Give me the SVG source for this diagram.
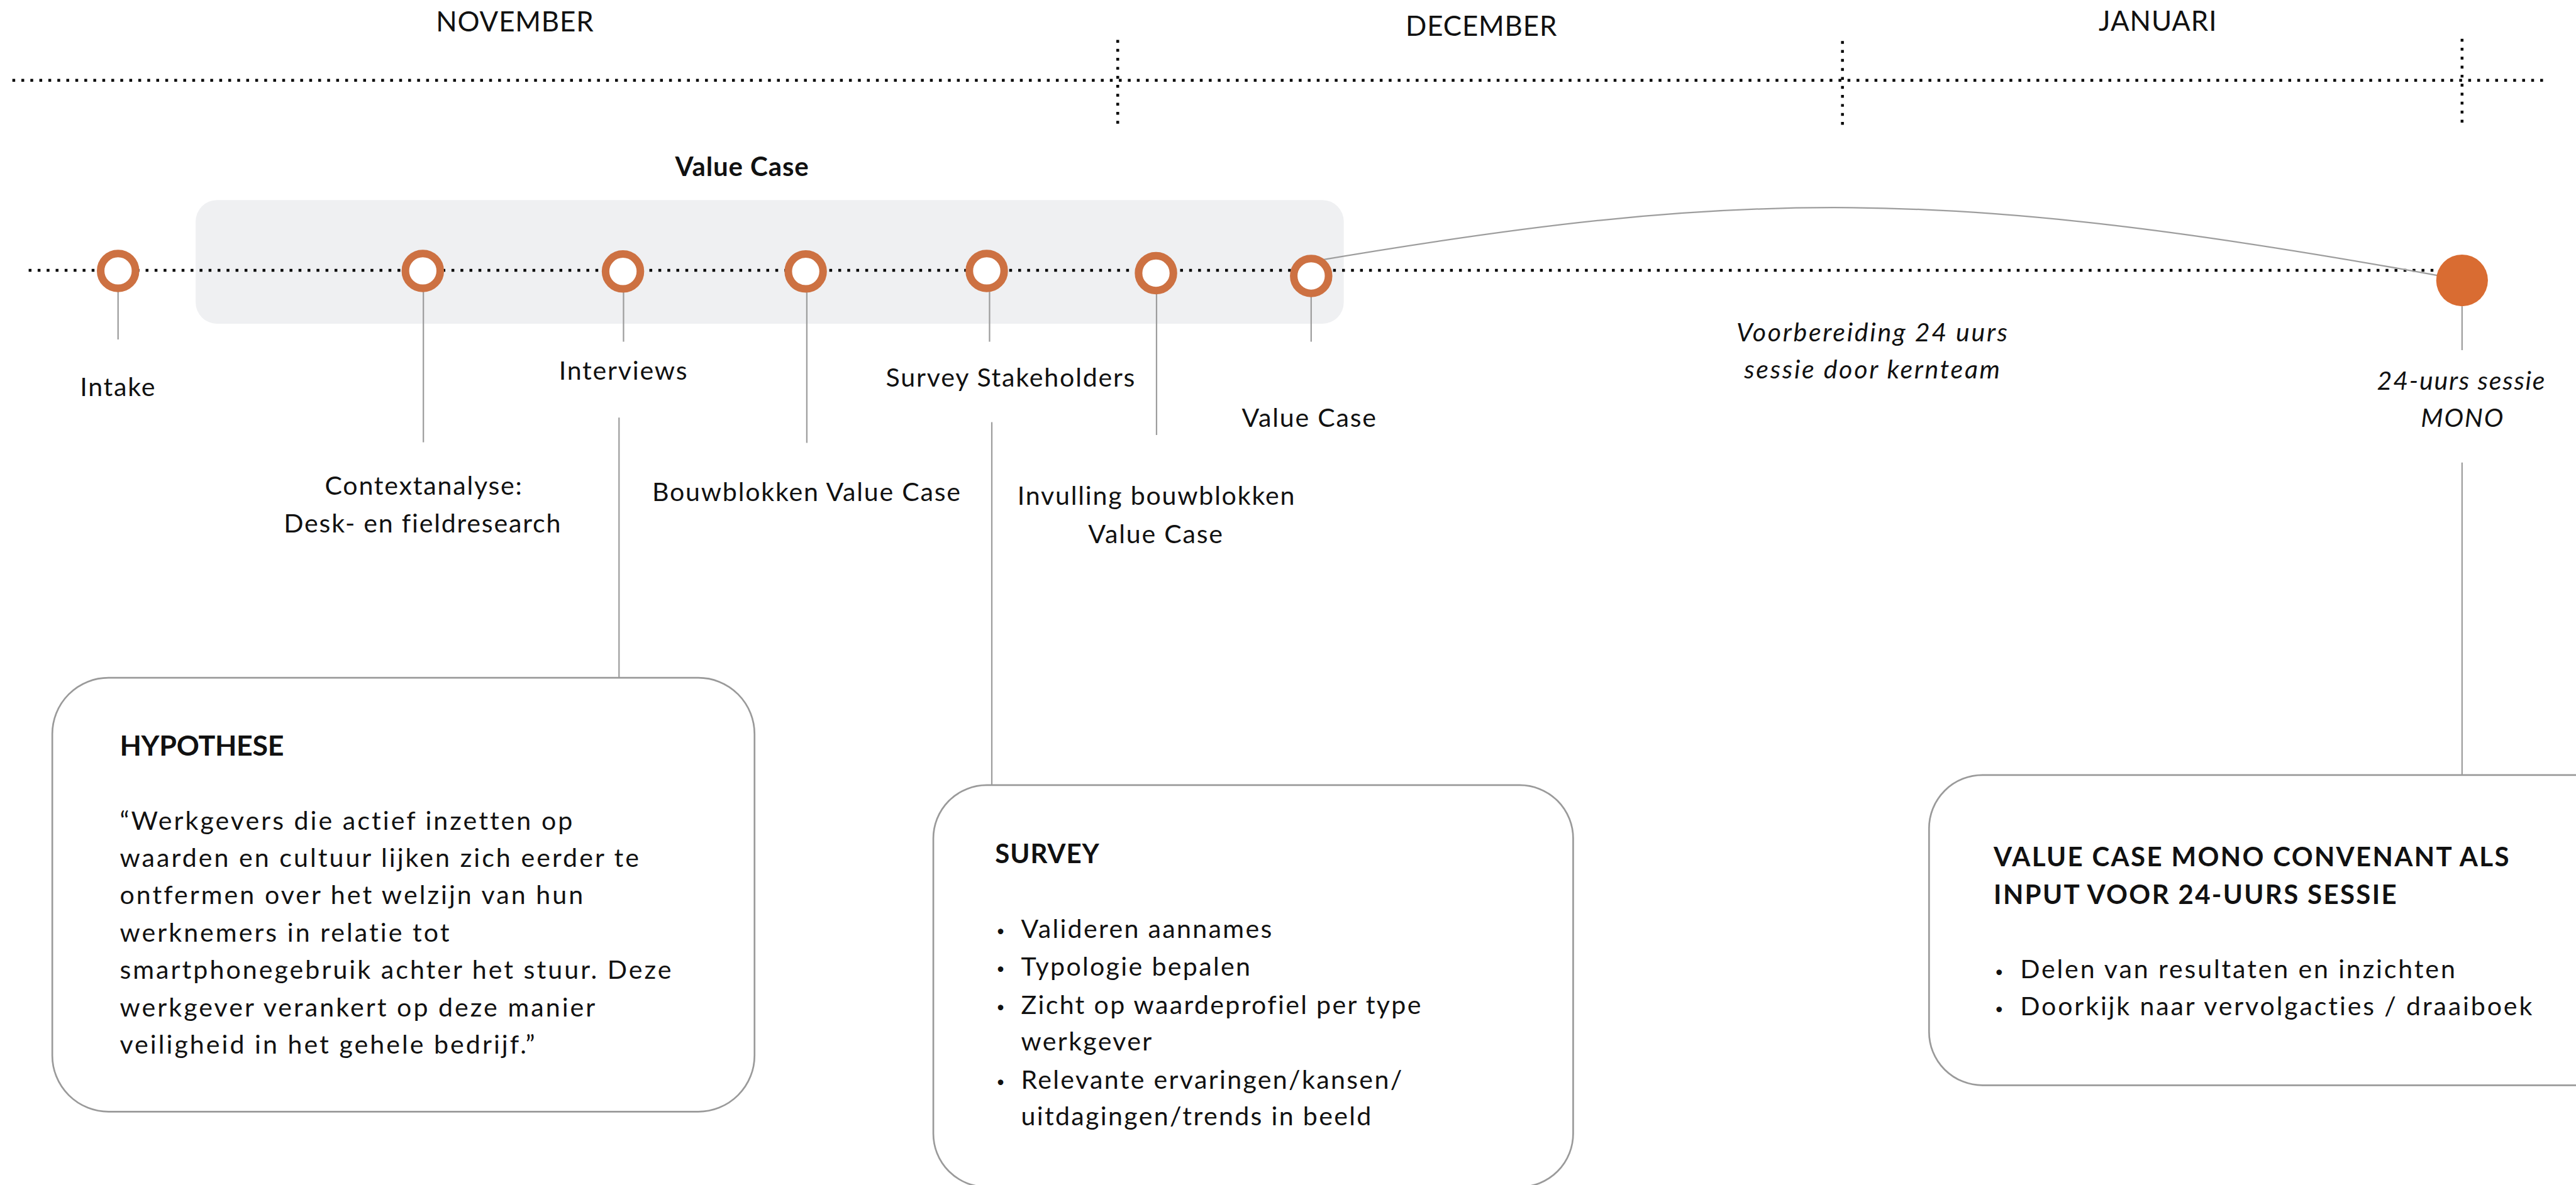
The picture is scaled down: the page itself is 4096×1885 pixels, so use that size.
<svg xmlns="http://www.w3.org/2000/svg" width="4096" height="1885" viewBox="0 0 4096 1885">
  <style>
    .lbl { font-family: Lato, "Noto Sans", sans-serif; font-size: 46px; fill: #111; letter-spacing: 2px; }
    .mid { text-anchor: middle; }
    .it { font-style: italic; }
    .bold { font-weight: 700; letter-spacing: 1px; }
    .hyp .lbl { letter-spacing: 3.4px; }
    .srv .lbl { letter-spacing: 2.6px; }
    .cov .lbl { letter-spacing: 3.2px; }
    .bul { font-size: 26px; }
    .month { font-family: Lato, "Noto Sans", sans-serif; font-size: 49px; fill: #111; text-anchor: middle; letter-spacing: 1px; }
    .dots { stroke: #000; stroke-width: 5; stroke-dasharray: 5 11; fill: none; }
    .lead { stroke: #9d9d9d; stroke-width: 2.5; fill: none; }
    .ring { fill: #fff; stroke: #cd7142; stroke-width: 13.5; }
    .card { fill: #fff; stroke: #9a9a9a; stroke-width: 3; }
  </style>
  <rect width="4096" height="1885" fill="#fff"/>
  <g transform="scale(0.894)">
    <!-- month axis -->
    <g id="months">
      <line class="dots" x1="22" y1="143" x2="4524" y2="143"/>
      <line class="dots" x1="1988" y1="71" x2="1988" y2="220"/>
      <line class="dots" x1="3277" y1="73" x2="3277" y2="222"/>
      <line class="dots" x1="4379" y1="69" x2="4379" y2="218"/>
      <text class="month" x="916" y="56">NOVEMBER</text>
      <text class="month" x="2635" y="64">DECEMBER</text>
      <text class="month" x="3838" y="55">JANUARI</text>
    </g>

    <!-- value case phase band -->
    <g id="phase-value-case">
      <rect x="348" y="356" width="2042" height="220" rx="38" fill="#eff0f2"/>
      <text class="lbl bold mid" x="1320" y="313" style="font-size:47px">Value Case</text>
    </g>

    <!-- timeline -->
    <line class="dots" x1="51" y1="481" x2="4340" y2="481"/>

    <!-- connectors -->
    <g id="connectors">
      <line class="lead" x1="210" y1="519" x2="210" y2="604"/>
      <line class="lead" x1="753" y1="519" x2="753" y2="787"/>
      <line class="lead" x1="1109" y1="520" x2="1109" y2="608"/>
      <line class="lead" x1="1435" y1="520" x2="1435" y2="788"/>
      <line class="lead" x1="1760" y1="519" x2="1760" y2="608"/>
      <line class="lead" x1="2057" y1="523" x2="2057" y2="774"/>
      <line class="lead" x1="2332" y1="528" x2="2332" y2="608"/>
      <line class="lead" x1="4379" y1="545" x2="4379" y2="623"/>
      <line class="lead" x1="1101" y1="743" x2="1101" y2="1206"/>
      <line class="lead" x1="1764" y1="751" x2="1764" y2="1397"/>
      <line class="lead" x1="4379" y1="823" x2="4379" y2="1379"/>
      <path class="lead" d="M2336,465 C3100,335 3460,332 4335,490" stroke-width="3.5"/>
    </g>

    <g id="m-intake">
      <circle class="ring" cx="210" cy="482" r="31"/>
      <text class="lbl mid" x="210" y="705">Intake</text>
    </g>
    <g id="m-context">
      <circle class="ring" cx="752" cy="482" r="31"/>
      <text class="lbl mid" x="754" y="880">Contextanalyse:</text>
      <text class="lbl mid" x="752" y="947">Desk- en fieldresearch</text>
    </g>
    <g id="m-interviews">
      <circle class="ring" cx="1108" cy="483" r="31"/>
      <text class="lbl mid" x="1109" y="676">Interviews</text>
    </g>
    <g id="m-bouwblokken">
      <circle class="ring" cx="1433" cy="483" r="31"/>
      <text class="lbl mid" x="1435" y="891">Bouwblokken Value Case</text>
    </g>
    <g id="m-survey">
      <circle class="ring" cx="1755" cy="482" r="31"/>
      <text class="lbl mid" x="1798" y="688">Survey Stakeholders</text>
    </g>
    <g id="m-invulling">
      <circle class="ring" cx="2056" cy="486" r="31"/>
      <text class="lbl mid" x="2057" y="898">Invulling bouwblokken</text>
      <text class="lbl mid" x="2056" y="966">Value Case</text>
    </g>
    <g id="m-valuecase">
      <circle class="ring" cx="2332" cy="491" r="31"/>
      <text class="lbl mid" x="2329" y="760">Value Case</text>
    </g>
    <g id="m-prep">
      <text class="lbl it mid" x="3331" y="607" style="letter-spacing:3px">Voorbereiding 24 uurs</text>
      <text class="lbl it mid" x="3331" y="673" style="letter-spacing:3px">sessie door kernteam</text>
    </g>
    <g id="m-session">
      <circle cx="4379" cy="499" r="46" fill="#d96c32"/>
      <text class="lbl it mid" x="4378" y="693">24-uurs sessie</text>
      <text class="lbl it mid" x="4380" y="760">MONO</text>
    </g>

    <!-- detail cards -->
    <g id="card-hypothese" class="hyp">
      <rect class="card" x="93" y="1206" width="1249" height="772" rx="100"/>
      <text class="lbl bold" x="213" y="1344" style="font-size:50px;letter-spacing:-0.3px">HYPOTHESE</text>
      <text class="lbl" x="213" y="1476">“Werkgevers die actief inzetten op</text>
      <text class="lbl" x="213" y="1543">waarden en cultuur lijken zich eerder te</text>
      <text class="lbl" x="213" y="1609">ontfermen over het welzijn van hun</text>
      <text class="lbl" x="213" y="1676">werknemers in relatie tot</text>
      <text class="lbl" x="213" y="1742">smartphonegebruik achter het stuur. Deze</text>
      <text class="lbl" x="213" y="1809">werkgever verankert op deze manier</text>
      <text class="lbl" x="213" y="1875">veiligheid in het gehele bedrijf.”</text>
    </g>
    <g id="card-survey" class="srv">
      <rect class="card" x="1660" y="1397" width="1138" height="715" rx="95"/>
      <text class="lbl bold" x="1770" y="1536" style="font-size:47px;letter-spacing:1px">SURVEY</text>
      <text class="lbl bul" x="1772" y="1666">•</text>
      <text class="lbl" x="1816" y="1669">Valideren aannames</text>
      <text class="lbl bul" x="1772" y="1733">•</text>
      <text class="lbl" x="1816" y="1736">Typologie bepalen</text>
      <text class="lbl bul" x="1772" y="1801">•</text>
      <text class="lbl" x="1816" y="1804">Zicht op waardeprofiel per type</text>
      <text class="lbl" x="1816" y="1869">werkgever</text>
      <text class="lbl bul" x="1772" y="1934">•</text>
      <text class="lbl" x="1816" y="1937">Relevante ervaringen/kansen/</text>
      <text class="lbl" x="1816" y="2002">uitdagingen/trends in beeld</text>
    </g>
    <g id="card-convenant" class="cov">
      <rect class="card" x="3431" y="1379" width="1300" height="552" rx="95"/>
      <text class="lbl bold" x="3546" y="1541" style="font-size:47px;letter-spacing:2.6px">VALUE CASE MONO CONVENANT ALS</text>
      <text class="lbl bold" x="3546" y="1609" style="font-size:47px;letter-spacing:2.6px">INPUT VOOR 24-UURS SESSIE</text>
      <text class="lbl bul" x="3548" y="1738">•</text>
      <text class="lbl" x="3593" y="1741">Delen van resultaten en inzichten</text>
      <text class="lbl bul" x="3548" y="1804">•</text>
      <text class="lbl" x="3593" y="1807">Doorkijk naar vervolgacties / draaiboek</text>
    </g>
  </g>
</svg>
